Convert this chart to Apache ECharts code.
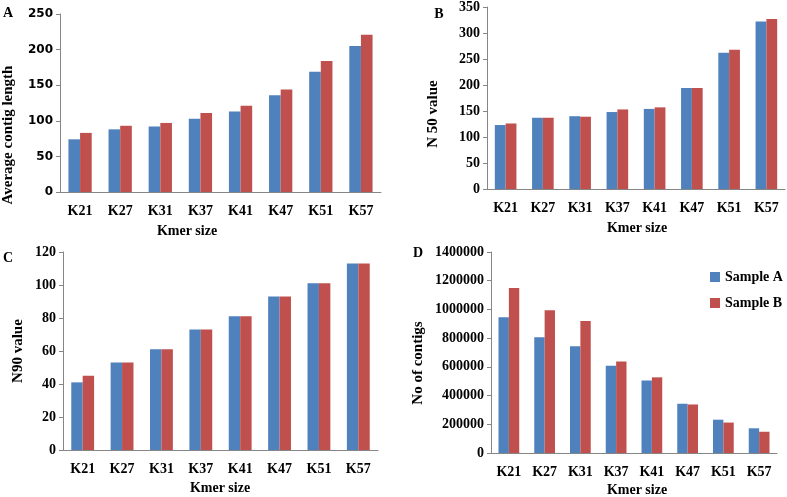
<!DOCTYPE html>
<html><head><meta charset="utf-8">
<script src="https://cdn.jsdelivr.net/npm/echarts@6/dist/echarts.min.js"></script>
<style>html,body{margin:0;padding:0;background:#fff}#c{width:787px;height:497px}</style>
</head><body><div id="c"></div>
<script>
const categories = ['K21','K27','K31','K37','K41','K47','K51','K57'];
const seriesNames = ['Sample A','Sample B'];
const avgLenA = [74, 88, 92, 103, 113, 136, 169, 205];
const avgLenB = [83, 93, 97, 111, 121, 144, 184, 221];
const n50A = [123, 137, 140, 148, 154, 194, 262, 322];
const n50B = [126, 137, 139, 153, 157, 194, 268, 327];
const n90A = [41, 53, 61, 73, 81, 93, 101, 113];
const n90B = [45, 53, 61, 73, 81, 93, 101, 113];
const contigsA = [945000, 807000, 743000, 607000, 505000, 343000, 232000, 172000];
const contigsB = [1149000, 995000, 920000, 637000, 527000, 338000, 212000, 148000];

const blue = '#4F81BD', red = '#C0504D', axisCol = '#868686';
const serif = '"Liberation Serif","Times New Roman",serif';
const sans = '"DejaVu Sans",Verdana,sans-serif';

const grids = [
  {left:60, width:321, top:14, height:178},
  {left:487, width:298, top:6, height:183},
  {left:63, width:315, top:252, height:198},
  {left:491, width:286, top:252, height:201}
];
const yCfg = [
  {max:250, interval:50, font:sans, size:12},
  {max:350, interval:50, font:serif, size:14},
  {max:120, interval:20, font:serif, size:14},
  {max:1400000, interval:200000, font:serif, size:14}
];
const data = [[avgLenA, avgLenB],[n50A, n50B],[n90A, n90B],[contigsA, contigsB]];

const xAxis = grids.map((g,i)=>({
  type:'category', gridIndex:i, data:categories,
  axisLine:{lineStyle:{color:axisCol}},
  axisTick:{length:5, lineStyle:{color:axisCol}},
  axisLabel:{color:'#000', fontFamily:serif, fontWeight:'bold', fontSize:14, margin:12}
}));
const yAxis = yCfg.map((c,i)=>({
  type:'value', gridIndex:i, min:0, max:c.max, interval:c.interval,
  splitLine:{show:false},
  axisLine:{show:true, lineStyle:{color:axisCol}},
  axisTick:{show:true, length:4, lineStyle:{color:axisCol}},
  axisLabel:{color:'#000', fontFamily:c.font, fontWeight:'bold', fontSize:c.size, margin:7,
    formatter: v => String(v)}
}));
const series = [];
data.forEach((pair,i)=>{
  pair.forEach((vals,j)=>{
    series.push({
      type:'bar', name:seriesNames[j], xAxisIndex:i, yAxisIndex:i, data:vals,
      barGap:'0%', barCategoryGap:'42%',
      itemStyle:{color: j===0?blue:red},
      silent:true
    });
  });
});
function txt(x,y,s,rot,size){
  return {type:'text', x:x, y:y, rotation: rot?Math.PI/2:0,
    style:{text:s, fill:'#000', font:'bold '+(size||14)+'px '+serif, textAlign:'center', textVerticalAlign:'middle'}};
}
const graphic = [
  txt(8,13,'A'), txt(439,14,'B'), txt(8,258,'C'), txt(418,253,'D'),
  txt(8,135,'Average contig length',true,15),
  txt(433,114,'N 50 value',true,15),
  txt(18,351,'N90 value',true,15),
  txt(418,363,'No of contigs',true,15),
  txt(187,231,'Kmer size'), txt(637,228,'Kmer size'),
  txt(220,488,'Kmer size'), txt(637,490,'Kmer size')
];
const chart = echarts.init(document.getElementById('c'));
chart.setOption({
  animation:false,
  grid:grids,
  xAxis:xAxis, yAxis:yAxis, series:series, graphic:graphic,
  legend:{data:seriesNames, orient:'vertical', left:705, top:265, itemWidth:10, itemHeight:10, itemGap:12,
    textStyle:{color:'#000', fontFamily:serif, fontWeight:'bold', fontSize:14}, icon:'rect', selectedMode:false}
});
</script></body></html>
